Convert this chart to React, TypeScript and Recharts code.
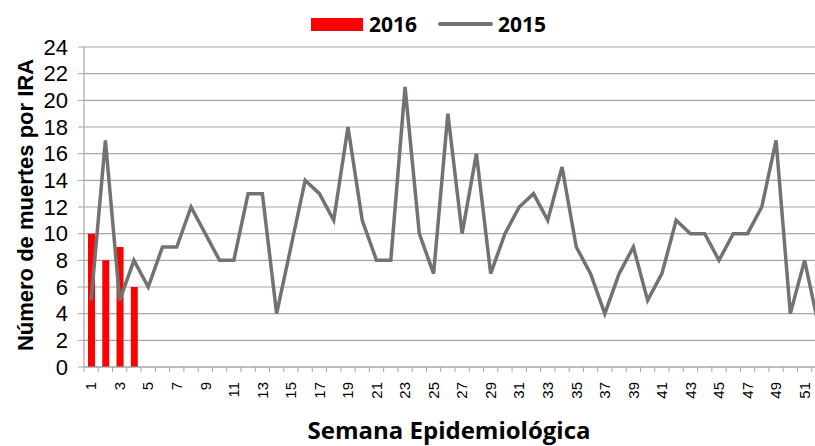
import React from "react";
import { ComposedChart, Bar, Line, XAxis, YAxis, CartesianGrid, Label } from "recharts";

const weeks = [
  1, 2, 3, 4, 5, 6, 7, 8, 9, 10, 11, 12, 13, 14, 15, 16, 17, 18, 19, 20, 21, 22, 23, 24, 25, 26,
  27, 28, 29, 30, 31, 32, 33, 34, 35, 36, 37, 38, 39, 40, 41, 42, 43, 44, 45, 46, 47, 48, 49, 50,
  51, 52,
];
const deaths2016 = [10, 8, 9, 6];
const deaths2015 = [
  5, 17, 5, 8, 6, 9, 9, 12, 10, 8, 8, 13, 13, 4, 9, 14, 13, 11, 18, 11, 8, 8, 21, 10, 7, 19, 10,
  16, 7, 10, 12, 13, 11, 15, 9, 7, 4, 7, 9, 5, 7, 11, 10, 10, 8, 10, 10, 12, 17, 4, 8, 3,
];
const yTicks = [0, 2, 4, 6, 8, 10, 12, 14, 16, 18, 20, 22, 24];

const data = weeks.map((w, i) => ({
  week: w,
  y2016: deaths2016[i],
  y2015: deaths2015[i],
}));

const GRID = "#a6a6a6";
const LINE = "#767171";
const ARIAL = "'Liberation Sans', Arial, sans-serif";
const TITLE = "'Open Sans', 'Liberation Sans', sans-serif";

const PLOT_LEFT = 84;
const CHART_W = 826;
const step = (CHART_W - PLOT_LEFT) / weeks.length;

function WeekTick(props: any) {
  const { x, y, payload } = props;
  const ty = y + 15;
  return (
    <g>
      <line x1={x - step / 2} x2={x - step / 2} y1={y} y2={y + 5} stroke={GRID} />
      {payload.value % 2 === 1 && (
        <text
          x={x}
          y={ty}
          dy="0.35em"
          transform={`rotate(-90 ${x} ${ty})`}
          textAnchor="end"
          fontSize={15}
          fontFamily={ARIAL}
          fill="#000"
        >
          {payload.value}
        </text>
      )}
    </g>
  );
}

export default function App() {
  return (
    <div
      style={{
        position: "absolute",
        left: 0,
        top: 0,
        width: 815,
        height: 446,
        overflow: "hidden",
        background: "#fff",
      }}
    >
      <div
        style={{
          position: "absolute",
          left: 311,
          top: 10,
          display: "flex",
          alignItems: "center",
          fontFamily: TITLE,
          fontWeight: 700,
          fontSize: 21,
          color: "#000",
          zIndex: 2,
        }}
      >
        <span style={{ width: 52, height: 13, background: "#ff0000", marginRight: 6 }} />
        <span>2016</span>
        <span
          style={{ width: 55, height: 4, background: LINE, marginLeft: 21, marginRight: 5, borderRadius: 2 }}
        />
        <span>2015</span>
      </div>
      <ComposedChart
        width={CHART_W}
        height={446}
        data={data}
        margin={{ top: 47, right: 0, bottom: 0, left: 0 }}
      >
        <CartesianGrid vertical={false} stroke={GRID} strokeWidth={1.2} />
        <XAxis
          dataKey="week"
          height={79}
          interval={0}
          tickLine={false}
          tickSize={0}
          tickMargin={0}
          axisLine={{ stroke: GRID, strokeWidth: 1.2 }}
          tick={<WeekTick />}
        >
          <Label
            content={() => (
              <text
                x={449}
                y={439}
                textAnchor="middle"
                fontFamily={TITLE}
                fontWeight={700}
                fontSize={24}
                fill="#000"
              >
                Semana Epidemiológica
              </text>
            )}
          />
        </XAxis>
        <YAxis
          width={PLOT_LEFT}
          domain={[0, 24]}
          ticks={yTicks}
          interval={0}
          tickSize={6}
          tickMargin={10}
          axisLine={{ stroke: GRID, strokeWidth: 1.2 }}
          tickLine={{ stroke: GRID }}
          tick={{ fill: "#000", fontSize: 22, fontFamily: ARIAL }}
        >
          <Label
            content={() => (
              <text
                x={33}
                y={205}
                transform="rotate(-90 33 205)"
                textAnchor="middle"
                fontFamily={ARIAL}
                fontWeight={700}
                fontSize={22}
                fill="#000"
              >
                Número de muertes por IRA
              </text>
            )}
          />
        </YAxis>
        <Bar dataKey="y2016" name="2016" fill="#ff0000" barSize={7} isAnimationActive={false} />
        <Line
          type="linear"
          dataKey="y2015"
          name="2015"
          stroke={LINE}
          strokeWidth={3.5}
          dot={false}
          activeDot={false}
          isAnimationActive={false}
        />
      </ComposedChart>
    </div>
  );
}
